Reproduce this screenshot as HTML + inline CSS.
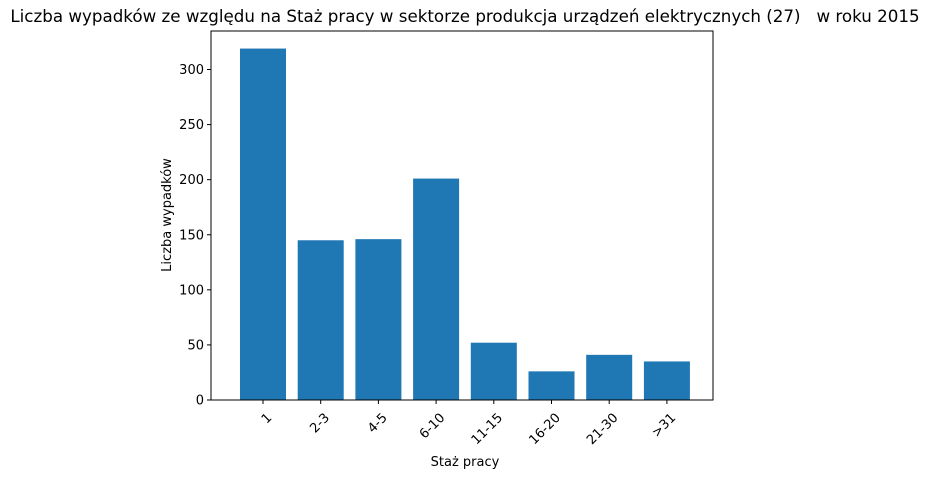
<!DOCTYPE html>
<html><head><meta charset="utf-8"><style>
body{margin:0;background:#fff;}
svg{display:block;font-family:"DejaVu Sans","Liberation Sans",sans-serif;}
</style></head><body>
<svg id="chart" width="930" height="478">
<text x="465" y="22" text-anchor="middle" font-size="16.7" fill="#000" style="white-space:pre" xml:space="preserve">Liczba wypadków ze względu na Staż pracy w sektorze produkcja urządzeń elektrycznych (27)   w roku 2015</text>
<g id="bars"></g>
<g id="yticks"></g>
<g id="xticks"></g>
<rect x="211" y="31" width="502" height="369" fill="none" stroke="#000" stroke-width="1"/>
<text x="0" y="0" transform="translate(171,215) rotate(-90)" text-anchor="middle" font-size="13">Liczba wypadków</text>
<text x="465" y="466" text-anchor="middle" font-size="13">Staż pracy</text>
</svg>
<script>
const categories = ["1","2-3","4-5","6-10","11-15","16-20","21-30",">31"];
const values = [319,145,146,201,52,26,41,35];
const yTicks = [0,50,100,150,200,250,300];

const NS="http://www.w3.org/2000/svg";
const plotBottom=400, plotTop=31, yMax=334.95;
function yScale(v){return plotBottom-(v/yMax)*(plotBottom-plotTop);}
function xScale(i){return 263+i*57.7;}
const bw=46;
const gb=document.getElementById('bars');
values.forEach((v,i)=>{
  const r=document.createElementNS(NS,'rect');
  r.setAttribute('x',xScale(i)-bw/2);
  r.setAttribute('y',yScale(v));
  r.setAttribute('width',bw);
  r.setAttribute('height',plotBottom-yScale(v));
  r.setAttribute('fill','#1f77b4');
  
  
  gb.appendChild(r);
});
const gy=document.getElementById('yticks');
yTicks.forEach(t=>{
  const y=yScale(t);
  const l=document.createElementNS(NS,'line');
  l.setAttribute('x1',207);l.setAttribute('x2',211);l.setAttribute('y1',y);l.setAttribute('y2',y);
  l.setAttribute('stroke','#000');
  
  
  gy.appendChild(l);
  const tx=document.createElementNS(NS,'text');
  tx.setAttribute('x',204);tx.setAttribute('y',y+4.5);
  tx.setAttribute('text-anchor','end');tx.setAttribute('font-size','13');
  tx.textContent=t;
  
  
  gy.appendChild(tx);
});
const gx=document.getElementById('xticks');
categories.forEach((c,i)=>{
  const x=xScale(i);
  const l=document.createElementNS(NS,'line');
  l.setAttribute('x1',x);l.setAttribute('x2',x);l.setAttribute('y1',400);l.setAttribute('y2',404);
  l.setAttribute('stroke','#000');
  
  
  gx.appendChild(l);
  const tx=document.createElementNS(NS,'text');
  tx.setAttribute('transform','translate('+(x+3)+',412) rotate(-45)');
  tx.setAttribute('text-anchor','end');tx.setAttribute('font-size','13');
  tx.setAttribute('dy','0.7em');
  tx.textContent=c;
  
  
  gx.appendChild(tx);
});
</script>
</body></html>
